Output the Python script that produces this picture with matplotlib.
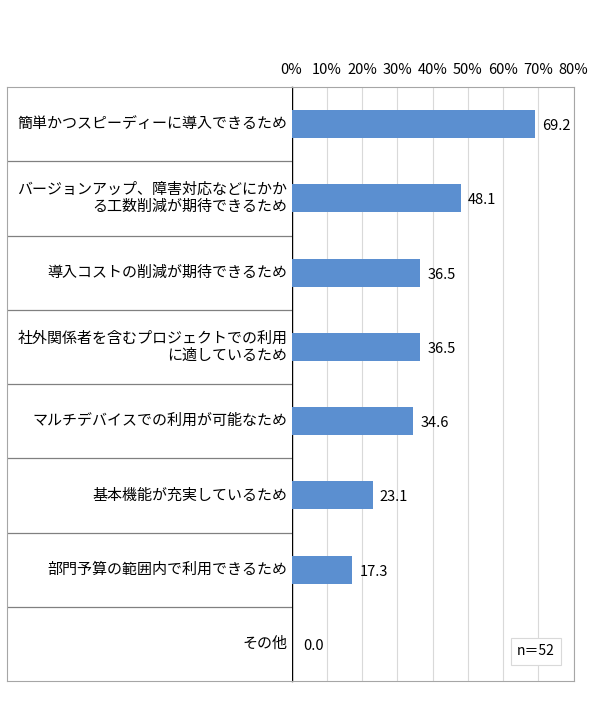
import matplotlib.pyplot as plt

plt.rcParams['font.family'] = ['Noto Sans CJK JP', 'DejaVu Sans']

# reasons (top to bottom) and share in %
labels = ["簡単かつスピーディーに導入できるため",
          "バージョンアップ、障害対応などにかか\nる工数削減が期待できるため",
          "導入コストの削減が期待できるため",
          "社外関係者を含むプロジェクトでの利用\nに適しているため",
          "マルチデバイスでの利用が可能なため",
          "基本機能が充実しているため",
          "部門予算の範囲内で利用できるため",
          "その他"]
values = [69.2, 48.1, 36.5, 36.5, 34.6, 23.1, 17.3, 0.0]
ticks = [0, 10, 20, 30, 40, 50, 60, 70, 80]
note = "n＝52"

W, H = 590, 709
fig = plt.figure(figsize=(W / 100, H / 100), dpi=100)

x0, x1, y_top, y_bot = 291.5, 573.5, 87, 681
ax = fig.add_axes([x0 / W, 1 - y_bot / H, (x1 - x0) / W, (y_bot - y_top) / H])
lab = fig.add_axes([7 / W, 1 - y_bot / H, (x0 - 7) / W, (y_bot - y_top) / H])

n = len(labels)
pos = list(range(n))
border = '#a6a6a6'

# bars
ax.barh(pos, values, height=0.38, color='#5B8FD0', zorder=3)
ax.set_xlim(0, 80)
ax.set_ylim(n - 0.5, -0.5)
ax.set_xticks(ticks)
ax.set_xticklabels([f"{t}%" for t in ticks], fontsize=10.5)
ax.xaxis.tick_top()
ax.tick_params(axis='x', length=0, pad=7)
ax.set_yticks([])
ax.grid(axis='x', color='#d9d9d9', linewidth=0.8, zorder=0)
for s in ['top', 'right', 'bottom']:
    ax.spines[s].set_color(border)
ax.spines['left'].set_color('#000000')
ax.spines['left'].set_linewidth(1.0)

for p, v in zip(pos, values):
    off = 12 if v == 0 else 7
    ax.annotate(f"{v:.1f}", (v, p), xytext=(off, -2), textcoords='offset pixels',
                ha='left', va='center', fontsize=10.5)

ax.text(0.934, 0.05, note, transform=ax.transAxes, ha='right', va='center',
        fontsize=10,
        bbox=dict(boxstyle='square,pad=0.45', fc='white', ec='#d9d9d9', lw=0.8))

# label column
lab.set_xlim(0, 1)
lab.set_ylim(n - 0.5, -0.5)
lab.set_xticks([])
lab.set_yticks([])
for s in ['top', 'left', 'bottom']:
    lab.spines[s].set_color(border)
lab.spines['right'].set_visible(False)
for b in range(1, n):
    lab.axhline(b - 0.5, color='#808080', linewidth=0.9)
for p, t in zip(pos, labels):
    lab.text(0.985, p, t, ha='right', va='center', fontsize=10.8, linespacing=1.25)

fig.savefig('out.png', dpi=100)
